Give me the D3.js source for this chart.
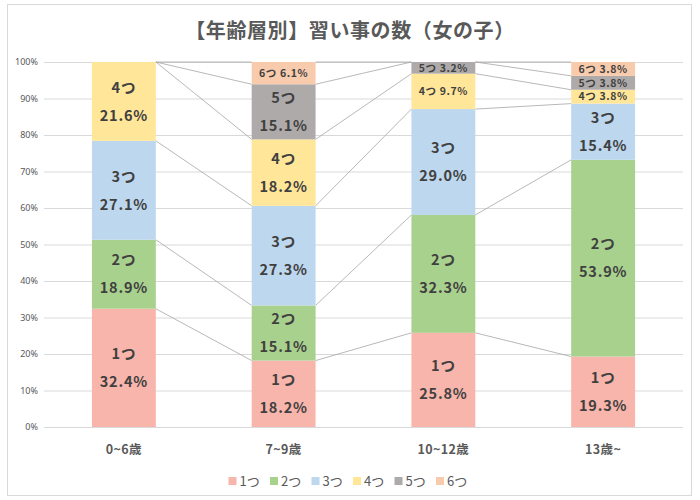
<!DOCTYPE html>
<html><head><meta charset="utf-8">
<script src="https://cdn.jsdelivr.net/npm/d3@7"></script>
<style>
html,body{margin:0;padding:0;background:#fff;}
svg{display:block;font-family:"Noto Sans CJK JP","Noto Sans",sans-serif;}
</style></head>
<body><svg id="c" width="700" height="500"></svg>
<script>
const title = "【年齢層別】習い事の数（女の子）";
const categories = ["0~6歳", "7~9歳", "10~12歳", "13歳~"];
const seriesNames = ["1つ", "2つ", "3つ", "4つ", "5つ", "6つ"];
const s1 = [32.4, 18.2, 25.8, 19.3];
const s2 = [18.9, 15.1, 32.3, 53.9];
const s3 = [27.1, 27.3, 29.0, 15.4];
const s4 = [21.6, 18.2, 9.7, 3.8];
const s5 = [0, 15.1, 3.2, 3.8];
const s6 = [0, 6.1, 0, 3.8];
const colors = ["#F8B5AB", "#A9D18E", "#BDD7EE", "#FFE699", "#AEAAAA", "#F8CBAD"];
const yTicks = [0, 10, 20, 30, 40, 50, 60, 70, 80, 90, 100];

const seriesVals = [s1, s2, s3, s4, s5, s6];
const rows = categories.map((c, i) => {
  const r = {cat: c};
  seriesNames.forEach((n, j) => r[n] = seriesVals[j][i]);
  return r;
});
const stacked = d3.stack().keys(seriesNames)(rows);

const svg = d3.select("#c");
svg.append("rect").attr("x", 7.5).attr("y", 4.5).attr("width", 684).attr("height", 491)
  .attr("fill", "#fff").attr("stroke", "#d9d9d9");

const x = d3.scaleBand().domain(categories).range([44, 683]).paddingInner(0.6).paddingOuter(0.3);
const y = d3.scaleLinear().domain([0, 100]).range([427, 62]);

// grid
svg.append("g").selectAll("line").data(yTicks).join("line")
  .attr("x1", 44).attr("x2", 683)
  .attr("y1", d => y(d) + 0.5).attr("y2", d => y(d) + 0.5)
  .attr("stroke", "#d9d9d9").attr("stroke-width", 1);

// y axis labels
const yAxis = d3.axisLeft(y).tickValues(yTicks).tickFormat(d => d + "%").tickSize(0).tickPadding(0);
const ya = svg.append("g").attr("transform", "translate(38,0)").call(yAxis);
ya.select(".domain").remove();
ya.selectAll("text").attr("font-size", 9).attr("fill", "#595959")
  .attr("font-family", "'Noto Sans','DejaVu Sans',sans-serif");

// series lines
const lg = svg.append("g");
stacked.forEach(layer => {
  for (let i = 0; i < categories.length - 1; i++) {
    lg.append("line")
      .attr("x1", x(categories[i]) + x.bandwidth()).attr("y1", y(layer[i][1]))
      .attr("x2", x(categories[i + 1])).attr("y2", y(layer[i + 1][1]))
      .attr("stroke", "#a6a6a6").attr("stroke-width", 0.8);
  }
});

// bars
stacked.forEach((layer, j) => {
  svg.append("g").selectAll("rect").data(layer).join("rect")
    .attr("x", d => x(d.data.cat))
    .attr("y", d => y(d[1]))
    .attr("width", x.bandwidth())
    .attr("height", d => y(d[0]) - y(d[1]))
    .attr("fill", colors[j]);
});

// labels
const tg = svg.append("g").attr("fill", "#404040").attr("font-weight", 700).attr("text-anchor", "middle");
stacked.forEach((layer, j) => {
  layer.forEach((d, i) => {
    const v = d[1] - d[0];
    if (v <= 0) return;
    const cx = x(d.data.cat) + x.bandwidth() / 2;
    const cy = y((d[0] + d[1]) / 2);
    if (v < 10) {
      tg.append("text").attr("x", cx).attr("y", cy).attr("dy", "0.36em")
        .attr("font-size", 10.5).attr("letter-spacing", 0.6)
        .text(seriesNames[j] + " " + v.toFixed(1) + "%");
    } else {
      tg.append("text").attr("x", cx).attr("y", cy - 14).attr("dy", "0.36em")
        .attr("font-size", 14.5).attr("letter-spacing", 0.8).text(seriesNames[j]);
      tg.append("text").attr("x", cx).attr("y", cy + 14).attr("dy", "0.36em")
        .attr("font-size", 14.5).attr("letter-spacing", 0.8).text(v.toFixed(1) + "%");
    }
  });
});

// x axis labels
const xAxis = d3.axisBottom(x).tickSize(0).tickPadding(0);
const xa = svg.append("g").attr("transform", "translate(0,445)").call(xAxis);
xa.select(".domain").remove();
xa.selectAll("text").attr("font-size", 12.5).attr("font-weight", 700).attr("fill", "#595959")
  .attr("letter-spacing", 0.4)
  .attr("font-family", "'Noto Sans CJK JP',sans-serif");

// title
svg.append("text").attr("x", 350).attr("y", 31).attr("dy", "0.36em").attr("text-anchor", "middle")
  .attr("font-size", 20).attr("letter-spacing", 0.6).attr("font-weight", 700).attr("fill", "#595959").text(title);

// legend
const itemW = 41.5;
const lx0 = 350 - itemW * seriesNames.length / 2;
const leg = svg.append("g").selectAll("g").data(seriesNames).join("g")
  .attr("transform", (d, i) => `translate(${lx0 + i * itemW + 3},481)`);
leg.append("rect").attr("x", 0).attr("y", -4).attr("width", 8).attr("height", 8)
  .attr("fill", (d, i) => colors[i]);
leg.append("text").attr("x", 11).attr("y", 0).attr("dy", "0.36em")
  .attr("font-size", 13).attr("fill", "#595959").text(d => d);
</script></body></html>
